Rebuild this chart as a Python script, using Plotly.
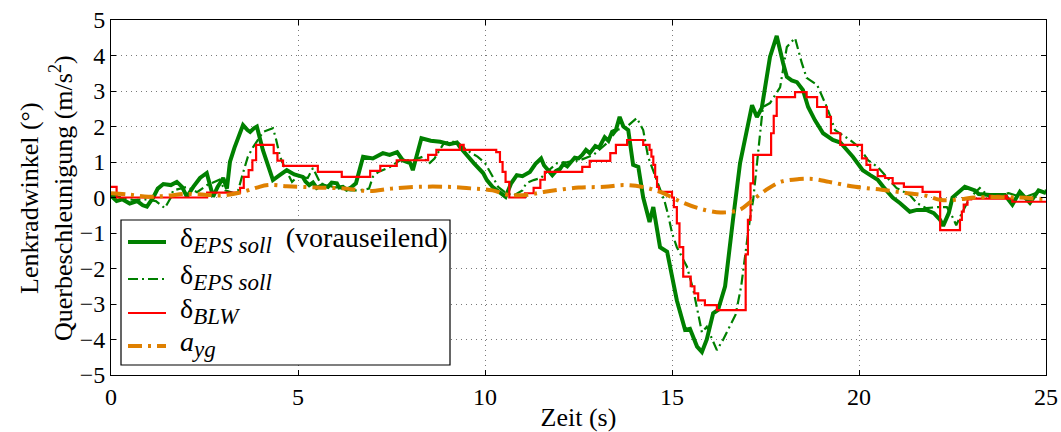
import plotly.graph_objects as go

# Lenkradwinkel, vorauseilend (solid green)
t_vor = [0.00, 0.15, 0.30, 0.50, 0.70, 0.85, 0.96, 1.13, 1.25, 1.40, 1.60, 1.76, 1.90, 2.03,
         2.20, 2.38, 2.56, 2.73, 2.85, 3.00, 3.10, 3.18, 3.30, 3.53, 3.65, 3.72, 3.82, 3.90,
         4.06, 4.20, 4.33, 4.50, 4.70, 4.90, 5.13, 5.20, 5.30, 5.40, 5.50, 5.65, 5.80, 5.90,
         6.04, 6.10, 6.20, 6.30, 6.40, 6.55,
         6.74, 7.00, 7.27, 7.45, 7.65, 7.80, 8.00, 8.07, 8.20, 8.30, 8.55, 8.80, 9.05, 9.25,
         9.33, 9.50, 9.70, 9.95, 10.05, 10.20, 10.40, 10.55, 10.70, 10.85, 11.00, 11.20, 11.35,
         11.50, 11.58, 11.65, 11.72, 11.80, 11.90, 12.00, 12.10, 12.20, 12.30, 12.40, 12.50,
         12.60, 12.70, 12.80, 12.95, 13.05, 13.20, 13.30, 13.40, 13.50, 13.60, 13.70,
         13.83, 13.96, 14.10, 14.23, 14.40, 14.50, 14.68, 14.87, 15.13, 15.35, 15.48, 15.67,
         15.80, 15.93, 16.10, 16.23, 16.42, 16.52, 16.63, 16.82, 17.00, 17.14, 17.27, 17.40,
         17.62, 17.80, 17.97, 18.07, 18.20, 18.34, 18.50, 18.64, 18.82, 19.04, 19.30, 19.50,
         19.84, 20.10, 20.30, 20.50, 20.65, 20.90, 21.10, 21.36, 21.55, 21.80, 22.00, 22.17,
         22.25, 22.40, 22.50, 22.70, 22.83, 23.10, 23.20, 23.50, 23.90, 24.10, 24.30, 24.57,
         24.80, 25.00]
d_vor = [0.05, -0.10, -0.05, -0.17, -0.10, -0.22, -0.26, 0.00, 0.25, 0.38, 0.35, 0.44, 0.30, 0.02,
         0.30, 0.55, 0.69, 0.02, 0.30, 0.55, 0.25, 1.00, 1.40, 2.04, 1.90, 1.85, 1.95, 2.00,
         1.34, 0.85, 0.49, 0.62, 0.77, 0.65, 0.58, 0.45, 0.35, 0.42, 0.27, 0.35, 0.30, 0.42,
         0.40, 0.28, 0.30, 0.22, 0.27, 0.40,
         1.15, 1.10, 1.25, 1.20, 1.28, 1.05, 0.97, 0.77, 1.30, 1.67, 1.60, 1.57, 1.50, 1.55,
         1.42, 1.20, 0.97, 0.69, 0.49, 0.30, 0.12, 0.02, 0.40, 0.63, 0.60, 0.72, 0.95,
         1.10, 0.90, 0.80, 0.70, 0.63, 0.75, 0.80, 0.95, 0.88, 1.00, 1.12, 1.10,
         1.20, 1.34, 1.25, 1.45, 1.40, 1.70, 1.60, 1.85, 1.90, 2.27, 2.00,
         1.90, 0.92, 0.86, 0.00, -0.69, -0.27, -1.40, -1.53, -2.90, -3.73, -3.70, -4.20,
         -4.35, -4.00, -3.26, -3.17, -2.50, -1.50, -0.63, 0.97, 1.90, 2.60, 2.27, 2.52,
         3.96, 4.55, 3.79, 3.40, 3.30, 3.25, 3.03, 2.55, 2.18, 1.81, 1.62, 1.55,
         1.14, 0.77, 0.63, 0.50, 0.30, 0.00, -0.16, -0.40, -0.35, -0.35, -0.44, -0.63,
         -0.80, -0.44, 0.00, 0.20, 0.30, 0.20, 0.10, 0.07, 0.07, -0.20, 0.16, -0.15,
         0.20, 0.12]

# Lenkradwinkel, EPS soll (green dash-dot)
t_eps = [0.00, 0.30, 0.60, 0.90, 1.20, 1.44, 1.60, 1.66, 2.03, 2.30, 2.57, 2.90, 3.05, 3.30,
         3.40, 3.53, 3.66, 3.80, 3.93, 4.07, 4.20, 4.33, 4.40, 4.47, 4.52, 4.65, 4.84, 5.00,
         5.26, 5.40, 5.60, 5.94, 6.40, 6.65, 6.90, 7.00, 7.15, 7.46, 7.73, 8.07, 8.34, 8.50,
         8.65, 8.90, 9.06, 9.25, 9.50, 9.80, 10.00, 10.20, 10.35, 10.53, 10.75, 11.00, 11.10,
         11.30, 11.50, 11.65, 11.93, 12.20, 12.54, 12.90, 13.26, 13.53, 13.80, 14.06, 14.23,
         14.36, 14.46, 14.68, 14.80, 14.90, 15.00, 15.13, 15.40, 15.57, 15.70, 15.80, 15.93,
         16.07, 16.20, 16.37, 16.50, 16.70, 16.85, 17.00, 17.08, 17.17, 17.27, 17.43, 17.62,
         17.89, 18.07, 18.29, 18.47, 18.60, 18.88, 19.14, 19.36, 19.76, 20.00, 20.24, 20.50,
         20.74, 21.00, 21.36, 21.55, 21.80, 22.10, 22.35, 22.50, 22.60, 22.75, 22.97, 23.23,
         23.50, 24.00, 24.40, 24.80, 25.00]
d_eps = [0.07, 0.00, -0.07, -0.05, -0.10, -0.30, 0.00, 0.20, 0.30, 0.15, 0.35, 0.50, 0.20, 0.12,
         0.20, 0.69, 1.15, 1.42, 1.62, 1.85, 1.90, 1.95, 1.70, 1.42, 1.15, 0.83, 0.44, 0.60,
         0.55, 0.83, 0.40, 0.30, 0.20, 0.20, 0.25, 0.58, 0.72, 0.86, 1.05, 1.05, 1.15, 0.95,
         1.10, 1.53, 1.57, 1.57, 1.34, 1.15, 0.97, 0.60, 0.30, 0.15, 0.05, 0.20, 0.40,
         0.49, 0.55, 0.72, 0.97, 1.00, 1.05, 1.20, 1.53, 1.90, 2.00, 2.24, 1.90,
         1.15, 0.86, 0.20, -0.10, -0.50, -1.00, -1.40, -1.95, -2.60, -3.26, -3.80, -3.64,
         -4.00, -4.30, -4.00, -3.73, -3.30, -2.50, -1.20, -0.63, -0.07, 0.97, 2.55, 2.66,
         3.10, 4.24, 4.49, 3.79, 3.37, 3.17, 2.55, 1.90, 1.62, 1.42, 1.05, 0.86,
         0.58, 0.27, 0.07, -0.16, -0.30, -0.27, -0.27, -0.55, -0.78, -0.44, 0.00, 0.27,
         0.00, 0.12, 0.00, 0.15, 0.20]

# Lenkradwinkel BLW (red, stepwise)
t_blw = [0.00, 0.15, 2.57, 3.45, 3.55, 3.68, 3.78, 3.88, 4.35, 4.45, 4.60, 5.53, 6.17, 6.93,
         7.20, 7.64, 8.48, 8.70, 9.33, 9.43, 10.30, 10.40, 10.47, 10.55, 10.65, 11.07, 11.30,
         11.48, 11.60, 12.60, 12.80, 13.35, 13.50, 13.80, 14.23, 14.40, 14.45, 14.50, 14.55,
         14.60, 14.65, 14.68, 15.00, 15.05, 15.13, 15.20, 15.30, 15.50, 15.60, 15.70, 15.88,
         16.20, 16.97, 17.03, 17.10, 17.17, 17.65, 17.72, 17.80, 18.29, 18.60, 18.88, 19.14,
         19.25, 19.50, 20.08, 20.20, 20.30, 20.50, 20.70, 20.90, 21.20, 21.70, 22.17, 22.70,
         22.75, 22.80, 22.90, 23.00, 23.50, 23.55, 23.70, 23.75, 23.90, 23.95, 24.10, 25.00]
d_blw = [0.30, 0.00, 0.14, 0.27, 0.58, 0.77, 1.05, 1.48, 1.25, 1.04, 0.89, 0.72, 0.58, 0.75,
         0.89, 1.05, 1.20, 1.34, 1.48, 1.34, 1.28, 1.00, 0.72, 0.44, 0.00, 0.12, 0.27,
         0.50, 0.72, 0.86, 1.03, 1.25, 1.48, 1.62, 1.48, 1.34, 1.15, 0.92, 0.58,
         0.30, 0.16, 0.16, 0.00, -0.27, -0.73, -1.40, -2.23, -2.50, -2.70, -2.90, -3.03,
         -3.17, -1.60, -0.63, 0.40, 1.20, 1.81, 2.30, 2.83, 2.97, 2.83, 2.55, 2.27,
         1.81, 1.48, 1.10, 0.92, 0.78, 0.60, 0.55, 0.40, 0.30, 0.16, -0.92, -0.63,
         -0.40, -0.20, -0.05, -0.03, 0.05, -0.03, 0.05, -0.03, 0.05, -0.03, -0.12, -0.12]

# Querbeschleunigung a_yg (orange dash-dot)
t_ayg = [0.0, 0.5, 1.0, 1.5, 2.0, 2.5, 3.0, 3.5, 3.9, 4.2, 4.7, 5.5, 6.3, 6.9, 7.5, 8.2, 9.0,
         9.7, 10.2, 10.6, 11.1, 11.6, 12.5, 13.2, 13.7, 14.2, 14.7, 15.2, 15.7, 16.3, 16.8,
         17.1, 17.5, 17.9, 18.4, 18.8, 19.2, 19.9, 20.6, 21.3, 21.8, 22.2, 22.7, 23.1, 24.2,
         25.0]
a_yg = [0.12, 0.08, 0.02, 0.05, 0.10, 0.08, 0.06, 0.15, 0.28, 0.35, 0.32, 0.28, 0.25, 0.18,
        0.25, 0.30, 0.30, 0.25, 0.20, 0.08, 0.07, 0.16, 0.28, 0.30, 0.35, 0.30, 0.15, -0.10,
        -0.30, -0.42, -0.35, -0.12, 0.20, 0.44, 0.52, 0.52, 0.44, 0.30, 0.22, 0.12, 0.05,
        -0.07, -0.05, 0.00, 0.00, -0.05]

x_ticks = [0, 5, 10, 15, 20, 25]
y_ticks = [-5, -4, -3, -2, -1, 0, 1, 2, 3, 4, 5]

FONT = "Liberation Serif"
GREEN = "#008000"
RED = "#ff0000"
ORANGE = "#df8000"

# plot area in pixels (used to place the hand-drawn legend box)
W, H = 1061, 432
ML, MR, MT, MB = 111, 15, 20, 57
PW, PH = W - ML - MR, H - MT - MB


def px(x):
    return (x - ML) / PW


def py(y):
    return (H - MB - y) / PH


def sub(text):
    return f"<sub><span style='font-size:23px'><i>{text}</i></span></sub>"


series = [
    dict(x=t_vor, y=d_vor, label="δ" + sub("EPS soll") + "  (vorauseilend)",
         line=dict(color=GREEN, width=4), shape="linear"),
    dict(x=t_eps, y=d_eps, label="δ" + sub("EPS soll"),
         line=dict(color=GREEN, width=2.2, dash="10px,4px,2px,4px"), shape="linear"),
    dict(x=t_blw, y=d_blw, label="δ" + sub("BLW"),
         line=dict(color=RED, width=2.2), shape="hv"),
    dict(x=t_ayg, y=a_yg, label="<i>a</i>" + sub("yg"),
         line=dict(color=ORANGE, width=4, dash="14px,6px,3px,6px"), shape="spline"),
]

fig = go.Figure()
for s in series:
    fig.add_trace(go.Scatter(x=s["x"], y=s["y"], mode="lines", name=s["label"],
                             line=s["line"], line_shape=s["shape"], showlegend=False))

axis_common = dict(
    showline=True, linecolor="black", linewidth=1, mirror="ticks",
    ticks="inside", ticklen=5, tickcolor="black",
    showgrid=True, gridcolor="#7a7a7a", gridwidth=1, griddash="1px,4px",
    zeroline=False, tickfont=dict(family=FONT, size=24, color="black"),
)

fig.update_xaxes(range=[0, 25], tickvals=x_ticks,
                 title=dict(text="Zeit (s)", font=dict(family=FONT, size=26, color="black"),
                            standoff=0),
                 **axis_common)
fig.update_yaxes(range=[-5, 5], tickvals=y_ticks, **axis_common)

# two-line y axis title
fig.add_annotation(
    text="Lenkradwinkel (°)<br>Querbeschleunigung (m/s<sup>2</sup>)",
    xref="paper", yref="paper", x=-0.069, y=0.5, xanchor="center", yanchor="middle",
    textangle=-90, showarrow=False,
    font=dict(family=FONT, size=26, color="black"))

# legend box with line samples and labels
fig.add_shape(type="rect", xref="paper", yref="paper",
              x0=px(121), x1=px(450), y0=py(365), y1=py(220),
              line=dict(color="black", width=1.2), fillcolor="white", layer="above")
entry_y = [242, 279, 313, 346]
for s, ey in zip(series, entry_y):
    ln = dict(s["line"])
    fig.add_shape(type="line", xref="paper", yref="paper",
                  x0=px(128), x1=px(166), y0=py(ey), y1=py(ey),
                  line=ln, layer="above")
    fig.add_annotation(text=s["label"], xref="paper", yref="paper",
                       x=px(178), y=py(ey - 2), xanchor="left", yanchor="middle",
                       showarrow=False, font=dict(family=FONT, size=28, color="black"))

fig.update_layout(
    width=W, height=H,
    margin=dict(l=ML, r=MR, t=MT, b=MB, autoexpand=False),
    paper_bgcolor="white", plot_bgcolor="white",
    font=dict(family=FONT, color="black"),
    showlegend=False,
)

fig.write_html("out.html")
